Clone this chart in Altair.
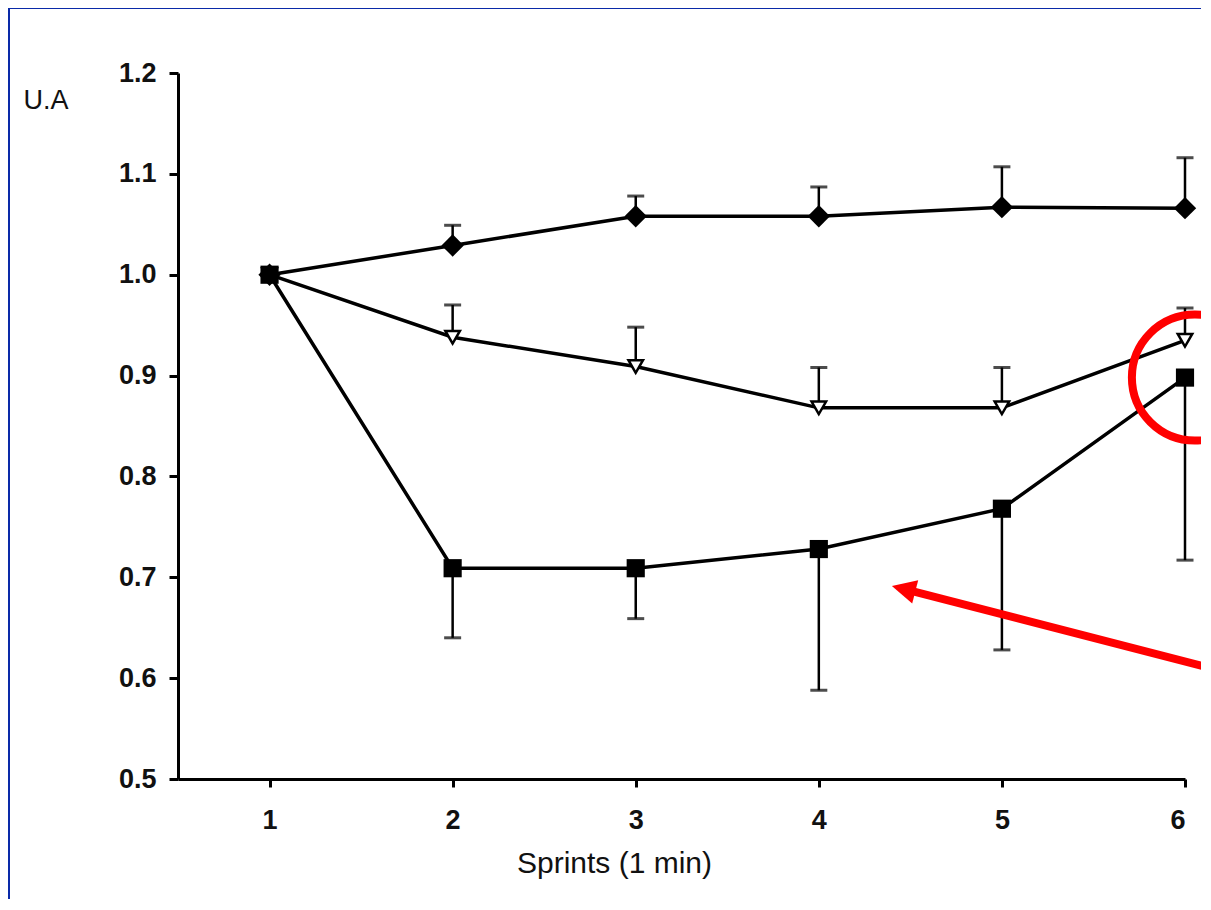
import altair as alt
import pandas as pd

# ---- data ----
sprints = [1, 2, 3, 4, 5, 6]
diamond_vals = [1.000, 1.029, 1.058, 1.058, 1.067, 1.066]
diamond_err = [None, 1.049, 1.078, 1.087, 1.107, 1.116]
triangle_vals = [1.000, 0.938, 0.909, 0.868, 0.868, 0.935]
triangle_err = [None, 0.970, 0.948, 0.908, 0.908, 0.967]
square_vals = [1.000, 0.709, 0.709, 0.728, 0.768, 0.898]
square_err = [None, 0.640, 0.659, 0.588, 0.628, 0.717]

x_ticks = [1, 2, 3, 4, 5, 6]
y_ticks = [0.5, 0.6, 0.7, 0.8, 0.9, 1.0, 1.1, 1.2]

# annotations (data coordinates)
circle_x = [6.054]
circle_y = [0.898]
arrow_tip_x = [4.399]
arrow_tip_y = [0.6914]
arrow_shaft_x = [4.494, 6.513]
arrow_shaft_y = [0.6869, 0.5926]

rows = []
for name, vals, errs in [("diamond", diamond_vals, diamond_err),
                         ("triangle", triangle_vals, triangle_err),
                         ("square", square_vals, square_err)]:
    for s, v, e in zip(sprints, vals, errs):
        rows.append({"series": name, "x": s, "y": v, "err": e})
df = pd.DataFrame(rows)
err_df = df.dropna(subset=["err"])

FONT = "Liberation Sans"
INK = "#111111"
SLIDE_BLUE = "#0a2aa8"

xscale = alt.Scale(domain=[0.5, 6], nice=False, zero=False)
yscale = alt.Scale(domain=[0.5, 1.2], nice=False, zero=False)

x_axis = alt.Axis(values=x_ticks, format="d", grid=False, zindex=1,
                  title="Sprints (1 min)", titleFont=FONT, titleFontSize=30,
                  titleFontWeight="normal", titleColor=INK,
                  titleX=436, titleY=93, titleAlign="center", titleBaseline="alphabetic",
                  labelFont=FONT, labelFontSize=27, labelFontWeight="bold", labelColor=INK,
                  labelBaseline="alphabetic", labelPadding=41, tickSize=8,
                  tickWidth=3, tickColor="black", domainColor="black", domainWidth=3)
y_axis = alt.Axis(values=y_ticks, format=".1f", grid=False, zindex=1,
                  title="U.A", titleFont=FONT, titleFontSize=27, titleFontWeight="normal",
                  titleColor=INK, titleAngle=0, titleX=-155, titleY=35,
                  titleAlign="left", titleBaseline="alphabetic",
                  labelFont=FONT, labelFontSize=27, labelFontWeight="bold", labelColor=INK,
                  labelBaseline="middle", labelPadding=13, tickSize=9,
                  tickWidth=3, tickColor="black", domainColor="black", domainWidth=3)

X = alt.X("x:Q", scale=xscale, axis=x_axis)
Y = alt.Y("y:Q", scale=yscale, axis=y_axis)

one = pd.DataFrame({"a": [0]})
# thin slide-blue edges at the top and left of the sheet
top_edge = alt.Chart(one).mark_rect(color=SLIDE_BLUE).encode(
    x=alt.value(-170), x2=alt.value(1030), y=alt.value(-65), y2=alt.value(-64))
left_edge = alt.Chart(one).mark_rect(color=SLIDE_BLUE).encode(
    x=alt.value(-170), x2=alt.value(-168), y=alt.value(-65), y2=alt.value(830))

lines = alt.Chart(df).mark_line(color="black", strokeWidth=3.5).encode(
    x=X, y=Y, detail="series:N")

rules = alt.Chart(err_df).mark_rule(color="black", strokeWidth=2.5).encode(
    x=X, y=Y, y2="err:Q")
caps = alt.Chart(err_df).mark_tick(color="black", orient="horizontal", size=17,
                                   thickness=3).encode(
    x=X, y=alt.Y("err:Q", scale=yscale, axis=y_axis))

tri = alt.Chart(df[df.series == "triangle"]).mark_point(
    shape="triangle-down", size=210, filled=True, fill="white", stroke="black",
    strokeWidth=2.5, opacity=1).encode(x=X, y=Y)
sq = alt.Chart(df[df.series == "square"]).mark_point(
    shape="square", size=330, filled=True, color="black", opacity=1).encode(x=X, y=Y)
dia = alt.Chart(df[df.series == "diamond"]).mark_point(
    shape="diamond", size=500, filled=True, color="black", opacity=1).encode(x=X, y=Y)

shaft = alt.Chart(pd.DataFrame({"x": arrow_shaft_x, "y": arrow_shaft_y})).mark_line(
    color="#ff0000", strokeWidth=8).encode(x=X, y=Y)
head = alt.Chart(pd.DataFrame({"x": arrow_tip_x, "y": arrow_tip_y})).mark_point(
    shape="M0,0L2,-1L2,1Z", size=580, angle=14.4, filled=True, color="#ff0000",
    opacity=1).encode(x=X, y=Y)
circle = alt.Chart(pd.DataFrame({"x": circle_x, "y": circle_y})).mark_point(
    shape="circle", size=15876, filled=False, color="#ff0000", strokeWidth=8,
    opacity=1).encode(x=X, y=Y)

chart = alt.layer(top_edge, left_edge, lines, rules, caps, tri, sq, dia,
                  shaft, head, circle).properties(
    width=1007, height=706,
    padding={"left": 170, "top": 65, "right": 16, "bottom": 120},
    autosize=alt.AutoSizeParams(type="none"),
    background="white",
).configure_view(strokeWidth=0)

chart.save("out.html", embed_options={"renderer": "svg", "actions": False})
